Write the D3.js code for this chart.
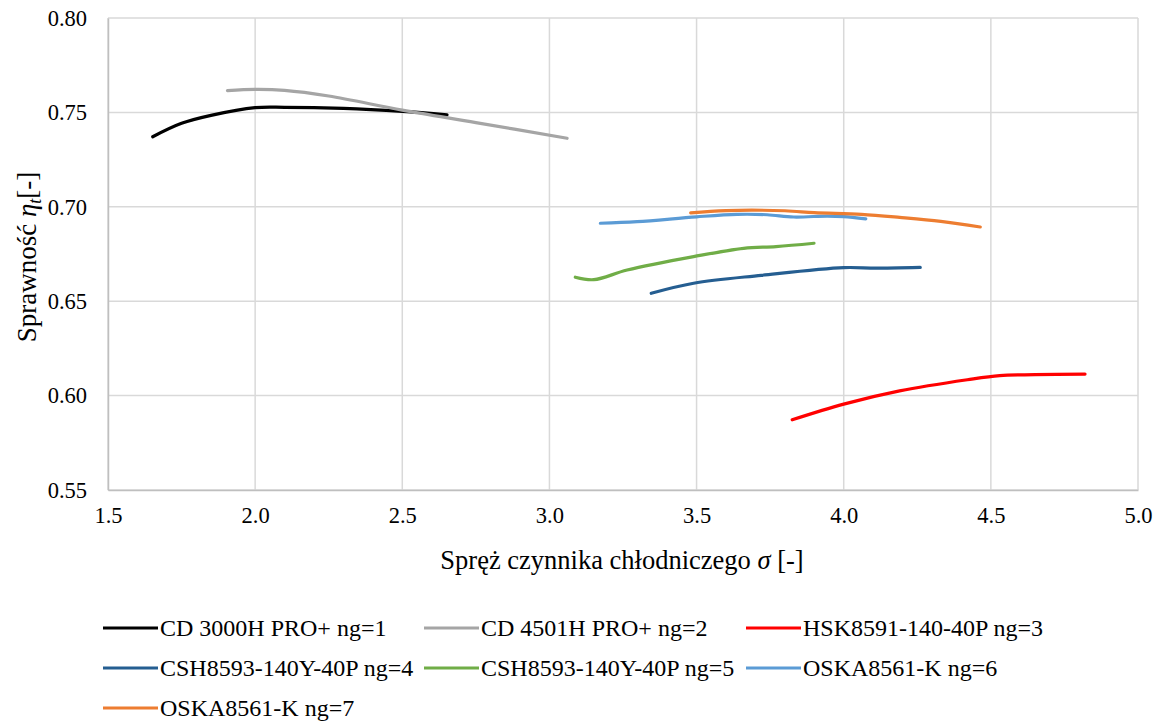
<!DOCTYPE html>
<html>
<head>
<meta charset="utf-8">
<title>Sprawność vs spręż</title>
<script src="https://cdnjs.cloudflare.com/ajax/libs/d3/7.8.5/d3.min.js"></script>
<style>
  body { margin: 0; background: #fff; }
</style>
</head>
<body>
<script>
// dane
var seriesNames = ["CD 3000H PRO+ ng=1", "CD 4501H PRO+ ng=2", "HSK8591-140-40P ng=3",
                   "CSH8593-140Y-40P ng=4", "CSH8593-140Y-40P ng=5", "OSKA8561-K ng=6", "OSKA8561-K ng=7"];
var seriesColors = ["#000000", "#a5a5a5", "#ff0000", "#255e91", "#70ad47", "#5b9bd5", "#ed7d31"];

var ng1 = [[1.652,0.7371],[1.75,0.7442],[1.85,0.7484],[2.0,0.7525],[2.1,0.7527],[2.3,0.7521],[2.5,0.7505],[2.652,0.7487]];
var ng2 = [[1.906,0.7615],[2.0,0.7622],[2.1,0.7617],[2.25,0.7587],[2.5,0.7512],[2.75,0.7446],[3.06,0.7363]];
var ng3 = [[3.825,0.5872],[4.0,0.5955],[4.19,0.6025],[4.42,0.6084],[4.53,0.6106],[4.65,0.6111],[4.82,0.6114]];
var ng4 = [[3.346,0.6542],[3.49,0.6595],[3.72,0.6637],[4.0,0.6678],[4.11,0.6675],[4.26,0.6679]];
var ng5 = [[3.088,0.6627],[3.151,0.6614],[3.264,0.6665],[3.49,0.6736],[3.66,0.6780],[3.77,0.6789],[3.899,0.6807]];
var ng6 = [[3.173,0.6913],[3.298,0.6921],[3.50,0.6947],[3.638,0.6960],[3.74,0.6958],[3.83,0.6946],[3.944,0.6951],[4.0,0.6948],[4.075,0.6936]];
var ng7 = [[3.48,0.6968],[3.60,0.6980],[3.80,0.6979],[3.90,0.6969],[4.06,0.6960],[4.19,0.6944],[4.33,0.6923],[4.464,0.6893]];
var allSeries = [ng1, ng2, ng3, ng4, ng5, ng6, ng7];

var xTicks = [1.5, 2.0, 2.5, 3.0, 3.5, 4.0, 4.5, 5.0];
var yTicks = [0.55, 0.60, 0.65, 0.70, 0.75, 0.80];

var width = 1164, height = 727;
// uwaga: "top" to window.top, wiec inne nazwy
var mLeft = 108, mRight = 1138, mTop = 18, mBottom = 490;
var serif = "'Liberation Serif', 'Times New Roman', serif";

var svg = d3.select("body").append("svg")
    .attr("width", width)
    .attr("height", height);

var x = d3.scaleLinear().domain([1.5, 5.0]).range([mLeft, mRight]);
var y = d3.scaleLinear().domain([0.55, 0.80]).range([mBottom, mTop]);

// siatka
svg.append("g").selectAll("line")
    .data(xTicks)
    .enter().append("line")
    .attr("x1", function(d) { return x(d); })
    .attr("x2", function(d) { return x(d); })
    .attr("y1", mTop).attr("y2", mBottom)
    .attr("stroke", "#d9d9d9").attr("stroke-width", 1.5);

svg.append("g").selectAll("line")
    .data(yTicks)
    .enter().append("line")
    .attr("x1", mLeft).attr("x2", mRight)
    .attr("y1", function(d) { return y(d); })
    .attr("y2", function(d) { return y(d); })
    .attr("stroke", "#d9d9d9").attr("stroke-width", 1.5);

// osie
var xAxis = svg.append("g")
    .attr("transform", "translate(0," + mBottom + ")")
    .call(d3.axisBottom(x).tickValues(xTicks).tickFormat(d3.format(".1f")).tickSize(0).tickPadding(17));
var yAxis = svg.append("g")
    .attr("transform", "translate(" + mLeft + ",0)")
    .call(d3.axisLeft(y).tickValues(yTicks).tickFormat(d3.format(".2f")).tickSize(0).tickPadding(21));
[xAxis, yAxis].forEach(function(a) {
    a.select(".domain").attr("stroke", "#bfbfbf").attr("stroke-width", 1.5);
    a.selectAll("text")
        .style("font-family", serif)
        .style("font-size", "22.5px")
        .attr("fill", "#000");
});

// tytuły osi
var xt = svg.append("text")
    .attr("x", 622).attr("y", 569)
    .attr("text-anchor", "middle")
    .style("font-family", serif)
    .style("font-size", "26.5px");
xt.append("tspan").text("Spręż czynnika chłodniczego ");
xt.append("tspan").style("font-style", "italic").text("σ");
xt.append("tspan").text(" [-]");

var yt = svg.append("text")
    .attr("transform", "translate(36,257) rotate(-90)")
    .attr("text-anchor", "middle")
    .style("font-family", serif)
    .style("font-size", "27px");
yt.append("tspan").text("Sprawność ");
yt.append("tspan").style("font-style", "italic").text("η");
yt.append("tspan").style("font-style", "italic").style("font-size", "18px").attr("dy", 5).text("t");
yt.append("tspan").attr("dy", -5).text("[-]");

// serie
var line = d3.line()
    .x(function(d) { return x(d[0]); })
    .y(function(d) { return y(d[1]); })
    .curve(d3.curveCatmullRom.alpha(0.5));

svg.append("g").selectAll("path")
    .data(allSeries)
    .enter().append("path")
    .attr("d", line)
    .attr("fill", "none")
    .attr("stroke", function(d, i) { return seriesColors[i]; })
    .attr("stroke-width", 3.2)
    .attr("stroke-linecap", "round");

// legenda
var legX = [103, 424, 746], legY = [628, 668, 708];
var leg = svg.append("g").selectAll("g")
    .data(seriesNames)
    .enter().append("g")
    .attr("transform", function(d, i) {
        return "translate(" + legX[i % 3] + "," + legY[Math.floor(i / 3)] + ")";
    });
leg.append("line")
    .attr("x1", 0).attr("x2", 55).attr("y1", 0).attr("y2", 0)
    .attr("stroke", function(d, i) { return seriesColors[i]; })
    .attr("stroke-width", 3.2);
leg.append("text")
    .attr("x", 57).attr("y", 8)
    .style("font-family", serif)
    .style("font-size", "24px")
    .text(function(d) { return d; });
</script>
</body>
</html>
